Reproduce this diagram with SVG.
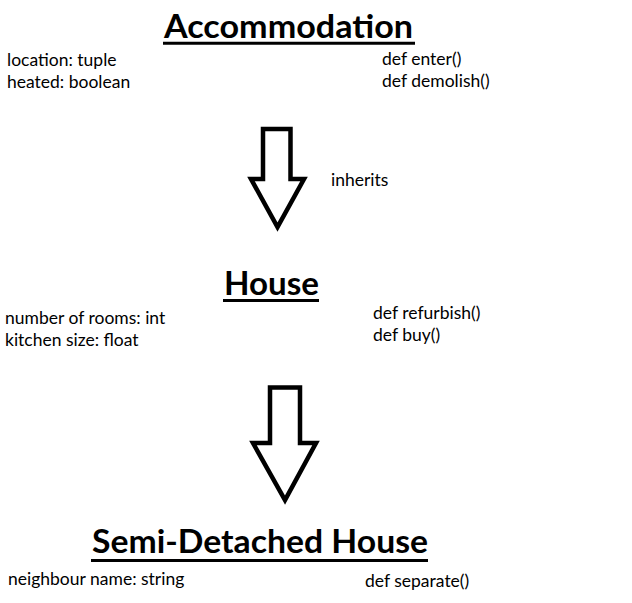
<svg xmlns="http://www.w3.org/2000/svg" width="632" height="603" viewBox="0 0 632 603">
<style>
.t{font-family:Lato,"Open Sans","Liberation Sans",sans-serif;font-size:17.5px;fill:#000}
.h{font-family:Lato,"Open Sans","Liberation Sans",sans-serif;font-weight:bold;font-size:33px;fill:#000}
.u{stroke:#000;stroke-width:3}
.arrow{fill:#fff;stroke:#000;stroke-width:4.5;stroke-linejoin:miter}
</style>
<rect width="632" height="603" fill="#fff"/>
<g id="accommodation">
<text class="h" x="164" y="38" textLength="249" lengthAdjust="spacingAndGlyphs">Accommodation</text>
<line class="u" x1="163" y1="43.3" x2="415" y2="43.3"/>
<text class="t" x="7" y="66">location: tuple</text>
<text class="t" x="7" y="88">heated: boolean</text>
<text class="t" x="382" y="65">def enter()</text>
<text class="t" x="382" y="87">def demolish()</text>
</g>
<g id="house">
<text class="h" x="224" y="295" textLength="95" lengthAdjust="spacingAndGlyphs">House</text>
<line class="u" x1="223" y1="300.5" x2="319" y2="300.5"/>
<text class="t" x="5" y="324">number of rooms: int</text>
<text class="t" x="5" y="346">kitchen size: float</text>
<text class="t" x="373" y="319">def refurbish()</text>
<text class="t" x="373" y="341">def buy()</text>
</g>
<g id="semi-detached-house">
<text class="h" x="92" y="553" textLength="336" lengthAdjust="spacingAndGlyphs">Semi-Detached House</text>
<line class="u" x1="91" y1="560.5" x2="428" y2="560.5"/>
<text class="t" x="8" y="585">neighbour name: string</text>
<text class="t" x="365" y="587">def separate()</text>
</g>
<g id="connectors">
<polygon class="arrow" points="263,129 290.5,129 290.5,179 304,179 277.5,227 251,179 263,179"/>
<text class="t" x="331" y="186">inherits</text>
<polygon class="arrow" points="270,387.5 300,387.5 300,443 316,443 285,500 253,443 270,443"/>
</g>
</svg>
